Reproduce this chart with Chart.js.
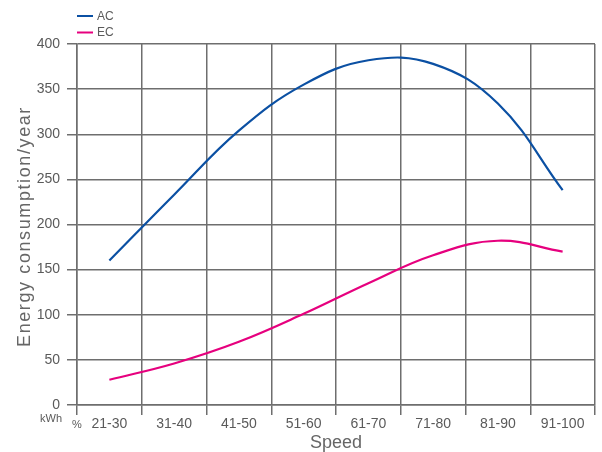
<!DOCTYPE html>
<html><head><meta charset="utf-8">
<script src="https://cdn.jsdelivr.net/npm/chart.js@4/dist/chart.umd.min.js"></script>
<style>
html,body{margin:0;padding:0;background:#fff;}
#wrap{position:relative;width:602px;height:452px;}
</style></head><body>
<div id="wrap"><canvas id="c"></canvas></div>
<script>
const categories = ['21-30','31-40','41-50','51-60','61-70','71-80','81-90','91-100'];
const acValues = [160, 233, 304, 355, 382, 378, 334, 238];
const ecValues = [28, 46, 70, 101, 135, 166, 182, 170];
const seriesNames = ['AC', 'EC'];
const seriesColors = ['#0b50a3', '#e6007e'];
const yMin = 0, yMax = 400, yStep = 50;
const yTitle = 'Energy consumption/year';
const xTitle = 'Speed';
const yUnit = 'kWh';
const xUnit = '%';

const FONT = '"Liberation Sans", Arial, Helvetica, sans-serif';
const GRID = '#6e6e6e';
const TEXT = '#5a5a5a';

const extras = {
  id: 'extras',
  afterDraw(chart) {
    const {ctx, chartArea: ca} = chart;
    ctx.save();
    // legend
    ctx.font = '12px ' + FONT;
    ctx.textAlign = 'left';
    ctx.textBaseline = 'middle';
    chart.data.datasets.forEach((ds, i) => {
      const y = 16 + i * 16.5;
      ctx.strokeStyle = ds.borderColor;
      ctx.lineWidth = 2;
      ctx.beginPath();
      ctx.moveTo(ca.left, y);
      ctx.lineTo(ca.left + 16, y);
      ctx.stroke();
      ctx.fillStyle = TEXT;
      ctx.fillText(ds.label, ca.left + 20, y + 0.5);
    });
    // y title
    ctx.save();
    ctx.fillStyle = '#666';
    ctx.font = '18px ' + FONT;
    if ('letterSpacing' in ctx) ctx.letterSpacing = '1.6px';
    ctx.translate(25, (ca.top + ca.bottom) / 2 + 2);
    ctx.rotate(-Math.PI / 2);
    ctx.textAlign = 'center';
    ctx.textBaseline = 'middle';
    ctx.fillText(yTitle, 0, 0);
    ctx.restore();
    // units
    ctx.fillStyle = TEXT;
    ctx.font = '11px ' + FONT;
    ctx.textAlign = 'right';
    ctx.textBaseline = 'middle';
    ctx.fillText(yUnit, ca.left - 15, ca.bottom + 13.5);
    ctx.textAlign = 'center';
    ctx.fillText(xUnit, ca.left, ca.bottom + 20);
    ctx.restore();
  }
};

new Chart(document.getElementById('c'), {
  type: 'line',
  data: {
    labels: categories,
    datasets: [
      {label: seriesNames[0], data: acValues, borderColor: seriesColors[0], backgroundColor: seriesColors[0], borderWidth: 2.2, pointRadius: 0, tension: 0.4, fill: false},
      {label: seriesNames[1], data: ecValues, borderColor: seriesColors[1], backgroundColor: seriesColors[1], borderWidth: 2.2, pointRadius: 0, tension: 0.4, fill: false}
    ]
  },
  options: {
    responsive: true,
    maintainAspectRatio: false,
    animation: false,
    layout: {padding: {top: 44, right: 7, bottom: 0, left: 0}},
    plugins: {legend: {display: false}, tooltip: {enabled: false}},
    scales: {
      x: {
        offset: true,
        grid: {offset: true, color: GRID, lineWidth: 1.5, tickLength: 10, drawTicks: true},
        border: {color: GRID, width: 1.5},
        ticks: {color: TEXT, font: {family: FONT, size: 14}, padding: 1, maxRotation: 0, autoSkip: false},
        title: {display: true, text: xTitle, color: '#666', font: {family: FONT, size: 18, lineHeight: 1}, padding: {top: 0, bottom: 0}},
        afterFit(s) { s.height = 47; }
      },
      y: {
        min: yMin, max: yMax,
        grid: {color: GRID, lineWidth: 1.5, tickLength: 10},
        border: {color: GRID, width: 1.5},
        ticks: {stepSize: yStep, color: TEXT, font: {family: FONT, size: 14}, padding: 7},
        afterFit(s) { s.width = 77; }
      }
    }
  },
  plugins: [extras]
});
</script>
</body></html>
